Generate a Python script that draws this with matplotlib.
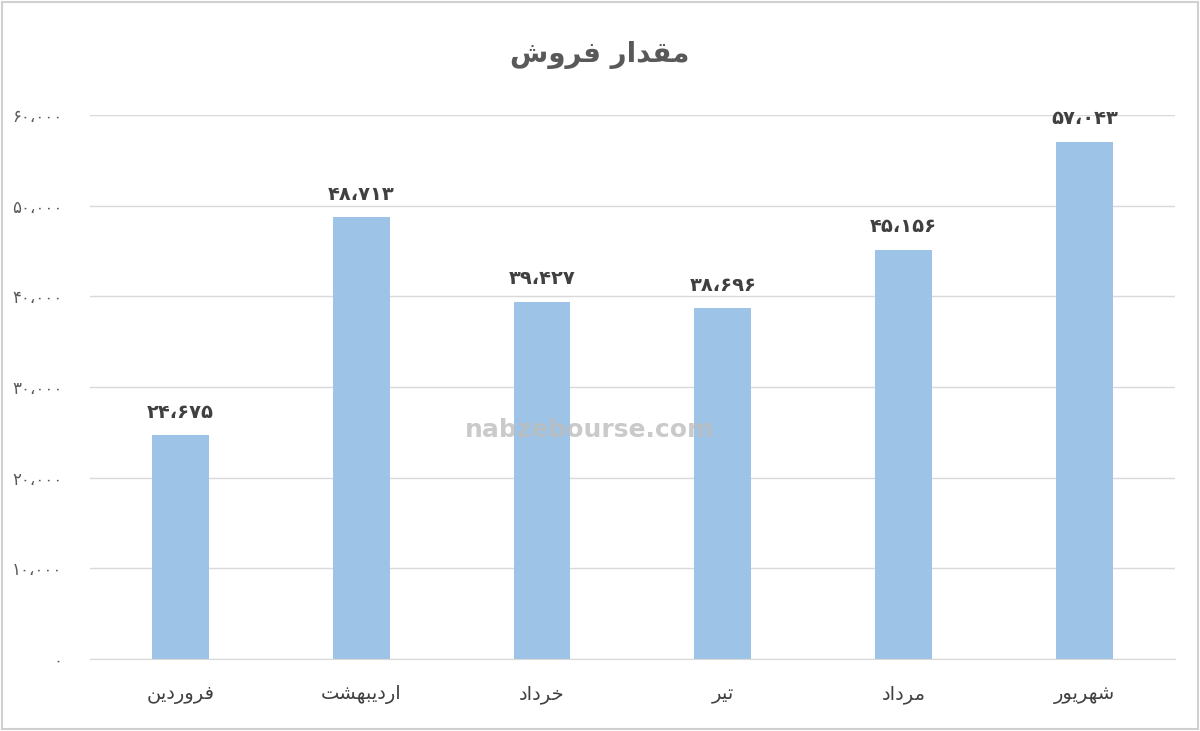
import matplotlib
matplotlib.use("Agg")
import matplotlib.pyplot as plt
from matplotlib.patches import Rectangle

# داده‌ها
months = ["فروردین", "اردیبهشت", "خرداد", "تیر", "مرداد", "شهریور"]
sales = [24675, 48713, 39427, 38696, 45156, 57043]
y_ticks = [0, 10000, 20000, 30000, 40000, 50000, 60000]
title = "مقدار فروش"
watermark = "nabzebourse.com"

# فرم‌های نمایشی حروف: (تنها، پایانی، آغازی، میانی)
FORMS = {
    "ا": ("\uFE8D", "\uFE8E", None, None),
    "ب": ("\uFE8F", "\uFE90", "\uFE91", "\uFE92"),
    "ت": ("\uFE95", "\uFE96", "\uFE97", "\uFE98"),
    "خ": ("\uFEA5", "\uFEA6", "\uFEA7", "\uFEA8"),
    "د": ("\uFEA9", "\uFEAA", None, None),
    "ر": ("\uFEAD", "\uFEAE", None, None),
    "ش": ("\uFEB5", "\uFEB6", "\uFEB7", "\uFEB8"),
    "ف": ("\uFED1", "\uFED2", "\uFED3", "\uFED4"),
    "ق": ("\uFED5", "\uFED6", "\uFED7", "\uFED8"),
    "م": ("\uFEE1", "\uFEE2", "\uFEE3", "\uFEE4"),
    "ن": ("\uFEE5", "\uFEE6", "\uFEE7", "\uFEE8"),
    "ه": ("\uFEE9", "\uFEEA", "\uFEEB", "\uFEEC"),
    "و": ("\uFEED", "\uFEEE", None, None),
    "ی": ("\uFEEF", "\uFEF0", "\uFEF3", "\uFEF4"),
}


def joins_next(ch):
    return ch in FORMS and FORMS[ch][2] is not None


def shape(text):
    out = []
    for i, ch in enumerate(text):
        if ch not in FORMS:
            out.append(ch)
            continue
        prev = text[i - 1] if i > 0 else ""
        nxt = text[i + 1] if i + 1 < len(text) else ""
        a = joins_next(prev)
        b = joins_next(ch) and nxt in FORMS
        iso, fin, ini, med = FORMS[ch]
        if a and b:
            out.append(med)
        elif a:
            out.append(fin)
        elif b:
            out.append(ini)
        else:
            out.append(iso)
    return "".join(out)[::-1]


def fa_num(v):
    s = f"{v:,}".replace(",", "\u060C")
    return s.translate(str.maketrans("0123456789", "۰۱۲۳۴۵۶۷۸۹"))


plt.rcParams["font.family"] = ["DejaVu Sans"]

fig = plt.figure(figsize=(12, 7.31), dpi=100)
ax = fig.add_axes([0.075, 0.0985, 0.904, 0.7442])

x = range(len(months))
ax.bar(x, sales, width=0.315, color="#9DC3E6", zorder=2)

for i, v in enumerate(sales):
    ax.text(i, v + 1500, fa_num(v), ha="center", va="bottom",
            fontsize=14, fontweight="bold", color="#404040")

ax.set_ylim(0, 60000)
ax.set_xlim(-0.5, len(months) - 0.5)
ax.set_yticks(y_ticks)
ax.set_yticklabels([fa_num(t) for t in y_ticks], fontsize=12, color="#595959")
ax.set_xticks(list(x))
ax.set_xticklabels([shape(m) for m in months], fontsize=14, color="#404040")
ax.tick_params(length=0)
ax.tick_params(axis="y", pad=20)
ax.tick_params(axis="x", pad=19)

ax.grid(axis="y", color="#D9D9D9", linewidth=1, zorder=0)
for s in ["top", "right", "left"]:
    ax.spines[s].set_visible(False)
ax.spines["bottom"].set_color("#D9D9D9")

fig.text(0.5, 0.925, shape(title), ha="center", va="center",
         fontsize=20, fontweight="bold", color="#595959")

fig.text(0.491, 0.412, watermark, ha="center", va="center",
         fontsize=18, fontweight="bold", color="#BDBDBD", alpha=0.8, zorder=5)

fig.patches.append(Rectangle((0.002, 0.003), 0.996, 0.994, transform=fig.transFigure,
                             fill=False, edgecolor="#D0D0D0", linewidth=1.5))

fig.savefig("out.png", dpi=100, facecolor="white")
